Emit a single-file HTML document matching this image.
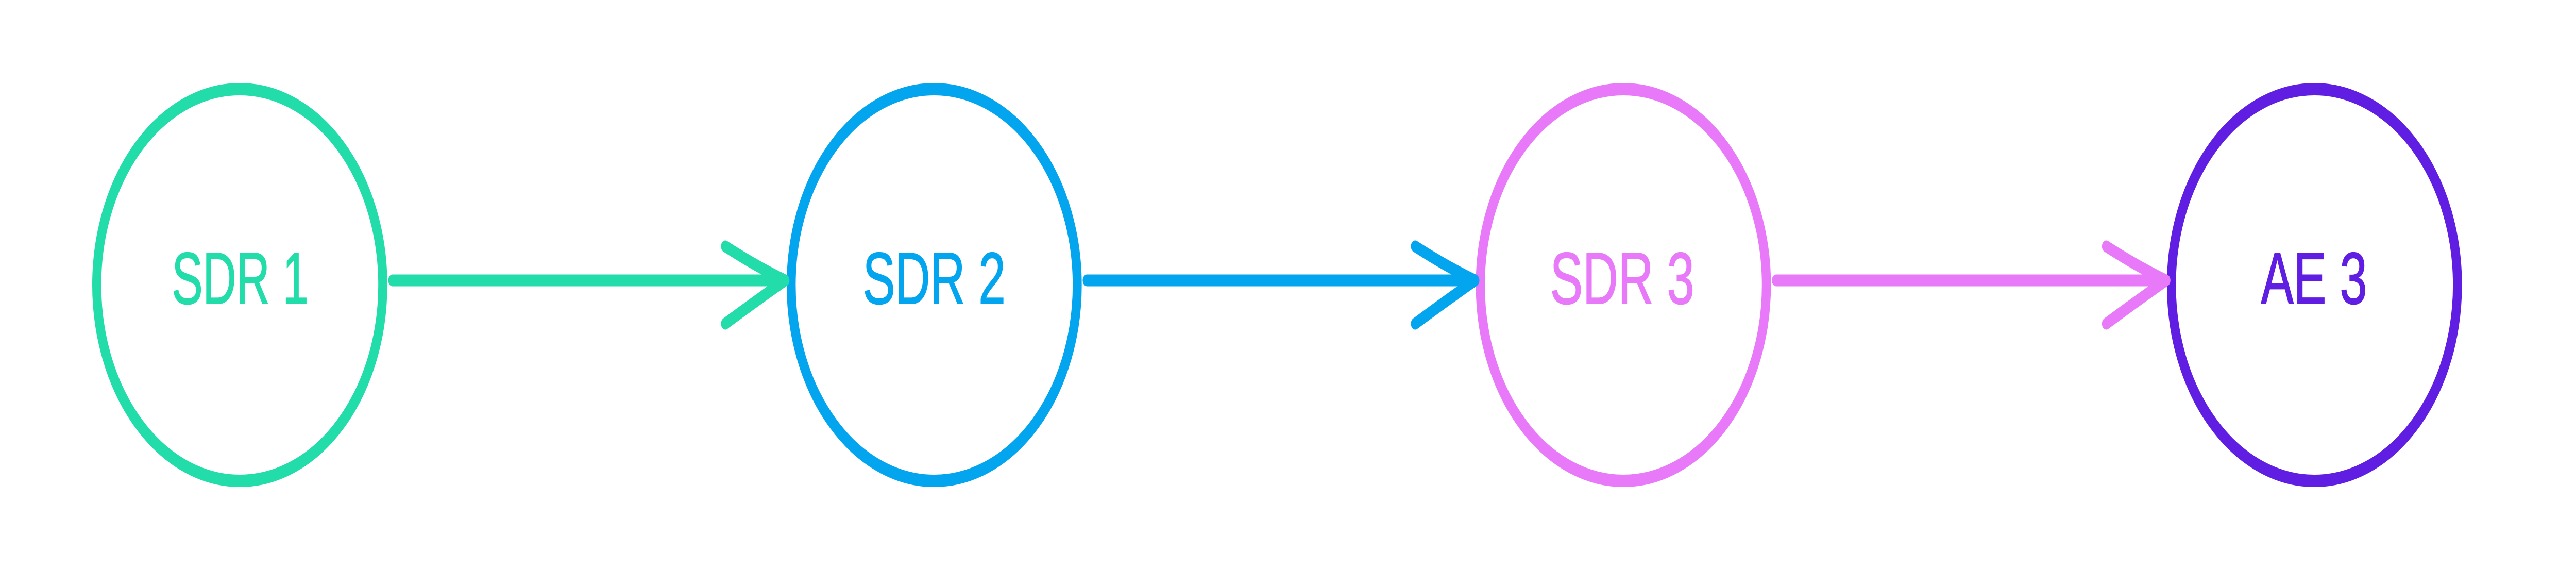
<!DOCTYPE html>
<html>
<head>
<meta charset="utf-8">
<style>
  html, body { margin: 0; padding: 0; background: #ffffff; width: 100%; height: 100%; overflow: hidden; }
  svg { display: block; width: 100vw; height: 100vh; }
  text { font-family: "Liberation Sans", "DejaVu Sans", sans-serif; font-size: 142px; stroke-width: 2px; }
</style>
</head>
<body>
<svg viewBox="0 0 6844 1135" preserveAspectRatio="none" xmlns="http://www.w3.org/2000/svg">
  <rect x="0" y="0" width="6844" height="1135" fill="#ffffff"/>

  <!-- Circles -->
  <circle cx="637" cy="553" r="380" fill="none" stroke="#22DDAA" stroke-width="24"/>
  <circle cx="2482" cy="553" r="380" fill="none" stroke="#03A5EF" stroke-width="24"/>
  <circle cx="4313" cy="553" r="380" fill="none" stroke="#E879F9" stroke-width="24"/>
  <circle cx="6149" cy="553" r="380" fill="none" stroke="#601EE3" stroke-width="24"/>

  <!-- Labels -->
  <text x="638" y="589" text-anchor="middle" fill="#22DDAA" stroke="#22DDAA" textLength="363" lengthAdjust="spacingAndGlyphs">SDR 1</text>
  <text x="2482" y="589" text-anchor="middle" fill="#03A5EF" stroke="#03A5EF" textLength="379" lengthAdjust="spacingAndGlyphs">SDR 2</text>
  <text x="4310" y="589" text-anchor="middle" fill="#E879F9" stroke="#E879F9" textLength="383" lengthAdjust="spacingAndGlyphs">SDR 3</text>
  <text x="6148" y="589" text-anchor="middle" fill="#601EE3" stroke="#601EE3" textLength="282" lengthAdjust="spacingAndGlyphs">AE 3</text>

  <!-- Arrow 1 -->
  <g fill="none" stroke="#22DDAA" stroke-width="23" stroke-linecap="round" stroke-linejoin="round">
    <path d="M1043,544 L2078,544"/>
    <path d="M1927,478 Q2012,518 2086,544 Q2010,583 1927,628"/>
  </g>
  <!-- Arrow 2 -->
  <g fill="none" stroke="#03A5EF" stroke-width="23" stroke-linecap="round" stroke-linejoin="round">
    <path d="M2888,544 L3911,544"/>
    <path d="M3760,478 Q3845,518 3919,544 Q3843,583 3760,628"/>
  </g>
  <!-- Arrow 3 -->
  <g fill="none" stroke="#E879F9" stroke-width="23" stroke-linecap="round" stroke-linejoin="round">
    <path d="M4719,544 L5747,544"/>
    <path d="M5596,478 Q5681,518 5755,544 Q5679,583 5596,628"/>
  </g>
</svg>
</body>
</html>
